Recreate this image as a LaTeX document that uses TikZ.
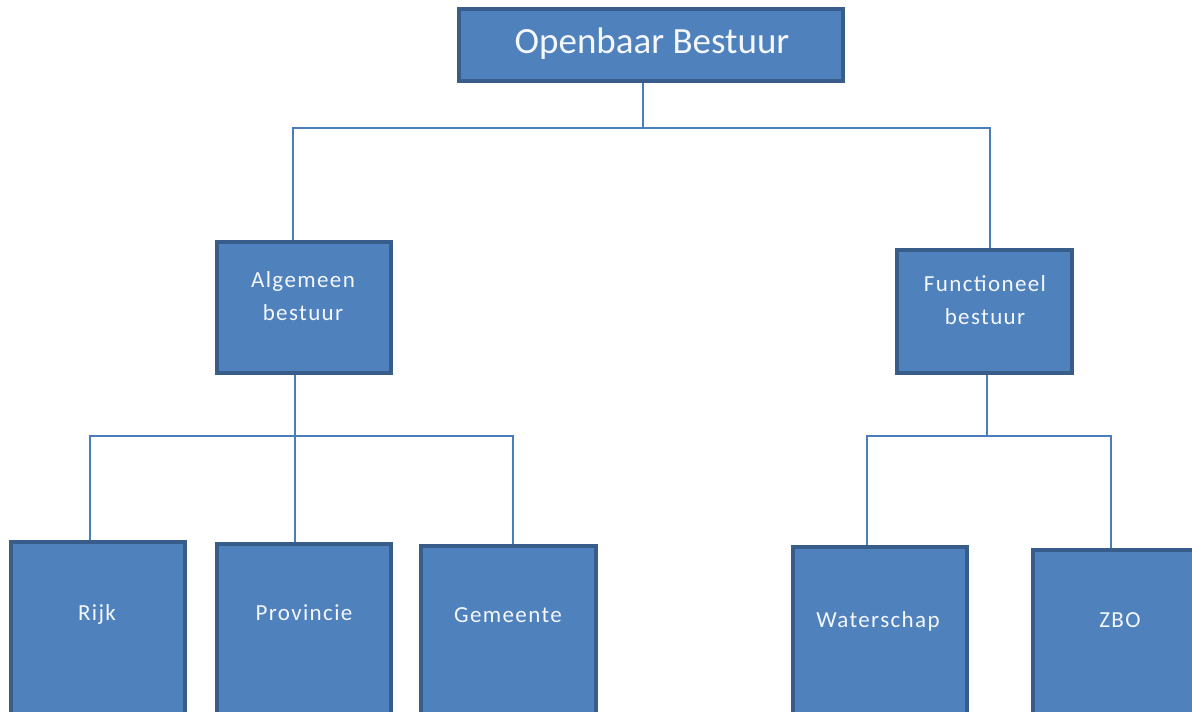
\documentclass[tikz,border=0pt]{standalone}
\usepackage{fontspec}
\setmainfont{Carlito}
\newfontfamily\boxfont[LetterSpace=6]{Carlito}
\usetikzlibrary{backgrounds}
\definecolor{boxfill}{HTML}{4F81BD}
\definecolor{boxedge}{HTML}{385D8A}
\definecolor{linec}{HTML}{4A7EBB}
\definecolor{txt}{HTML}{F4F7FC}
\tikzset{
  box/.style={draw=boxedge, line width=3.2pt, fill=boxfill, inner sep=0pt, outer sep=0pt},
  conn/.style={draw=linec, line width=1.4pt},
  bigtxt/.style={text=txt, anchor=base, inner sep=0pt, font=\fontsize{37}{44}\selectfont},
  smalltxt/.style={text=txt, anchor=base, inner sep=0pt, align=center, font=\boxfont\fontsize{23}{32.5}\selectfont}
}
\begin{document}
\begin{tikzpicture}[x=1pt,y=-1pt]
\useasboundingbox (0,0) rectangle (1192,712);
\clip (0,0) rectangle (1192,712);
% boxes
\node[box, minimum width=384pt, minimum height=72pt] (top) at (651,45) {};
\node[box, minimum width=174pt, minimum height=131pt] (alg) at (304,307.5) {};
\node[box, minimum width=175pt, minimum height=123pt] (func) at (984.5,311.5) {};
\node[box, minimum width=174pt, minimum height=188pt] (rijk) at (98,636) {};
\node[box, minimum width=174pt, minimum height=186pt] (prov) at (304,637) {};
\node[box, minimum width=175pt, minimum height=184pt] (gem) at (508.5,638) {};
\node[box, minimum width=174pt, minimum height=183pt] (water) at (880,638.5) {};
\node[box, minimum width=174pt, minimum height=180pt] (zbo) at (1120,640) {};
% texts
\node[bigtxt] (ttop) at (652,53) {Openbaar Bestuur};
\node[smalltxt] (talg) at (303,320) {Algemeen\\bestuur};
\node[smalltxt] (tfunc) at (985,324) {Functioneel\\bestuur};
\node[smalltxt] (trijk) at (97,620) {Rijk};
\node[smalltxt] (tprov) at (304,620) {Provincie};
\node[smalltxt] (tgem) at (508,622) {Gemeente};
\node[smalltxt] (twater) at (878,627) {Waterschap};
\node[smalltxt] (tzbo) at (1120,627) {ZBO};
% bus coordinates
\coordinate (b0) at (643,128);
\coordinate (ta) at (293,128);
\coordinate (tf) at (990,128);
\coordinate (b1) at (295,436);
\coordinate (la) at (90,436);
\coordinate (lc) at (513,436);
\coordinate (b2) at (987,436);
\coordinate (ra) at (867,436);
\coordinate (rb) at (1111,436);
\begin{scope}[on background layer]
\draw[conn] (b0 |- top.south) -- (b0);
\draw[conn] (ta |- alg.north) -- (ta) -- (tf) -- (tf |- func.north);
\draw[conn] (b1 |- alg.south) -- (b1);
\draw[conn] (la |- rijk.north) -- (la) -- (lc) -- (lc |- gem.north);
\draw[conn] (b1) -- (b1 |- prov.north);
\draw[conn] (b2 |- func.south) -- (b2);
\draw[conn] (ra |- water.north) -- (ra) -- (rb) -- (rb |- zbo.north);
\end{scope}
\end{tikzpicture}
\end{document}
